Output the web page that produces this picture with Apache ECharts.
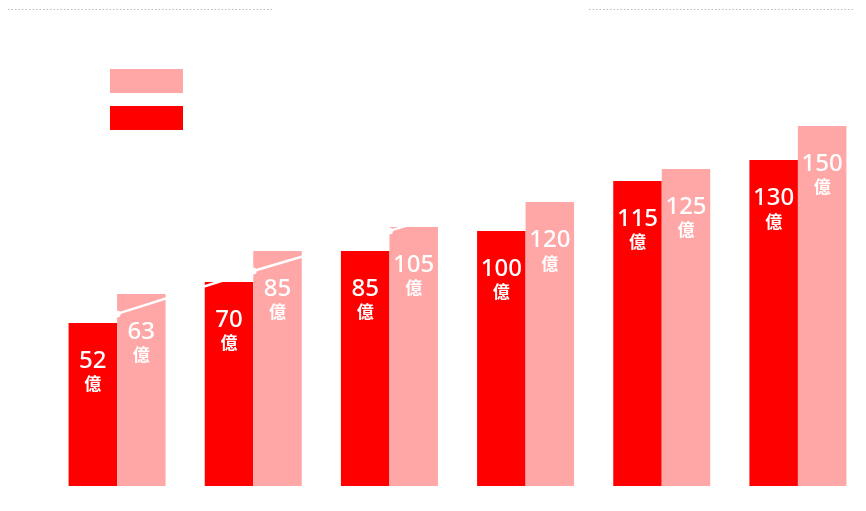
<!DOCTYPE html>
<html>
<head>
<meta charset="utf-8">
<style>
html,body{margin:0;padding:0;background:#fff;}
#chart{width:866px;height:511px;}
</style>
<script src="https://cdn.jsdelivr.net/npm/echarts@6/dist/echarts.min.js"></script>
</head>
<body>
<div id="chart"></div>
<script>
// Categories (six groups, no visible axis labels)
const categories = ['1', '2', '3', '4', '5', '6'];
// Bar heights as drawn (axis units)
const redValues = [67.9, 85.0, 97.9, 106.3, 127.1, 135.8];
const pinkValues = [80.0, 97.9, 107.9, 118.3, 132.1, 150.0];
// Text printed inside the bars (億)
const redLabels = [52, 70, 85, 100, 115, 130];
const pinkLabels = [63, 85, 105, 120, 125, 150];
// White trend line (mostly hidden against the white background)
const lineValues = [71.7, 89.6, 106.3, 123.3, 140.4, 157.5];
const unitText = '億';

const chart = echarts.init(document.getElementById('chart'), null, {renderer: 'canvas'});

function labelCfg(labels) {
  return {
    show: true,
    position: 'insideTop',
    distance: 25,
    formatter: p => '{v|' + labels[p.dataIndex] + '}\n{u|' + unitText + '}',
    rich: {
      v: {color: '#fff', fontSize: 24, lineHeight: 26, fontFamily: 'Noto Sans', fontWeight: 500},
      u: {color: '#fff', fontSize: 17, lineHeight: 20, fontFamily: 'Noto Sans CJK TC', fontWeight: 'bold'}
    }
  };
}

chart.setOption({
  animation: false,
  backgroundColor: '#ffffff',
  grid: {left: 49, right: 0, top: 102, bottom: 25},
  legend: {
    orient: 'vertical',
    left: 105, top: 64,
    itemWidth: 73, itemHeight: 24, itemGap: 13,
    icon: 'rect',
    data: ['B', 'A'],
    formatter: () => '',
    selectedMode: false
  },
  graphic: [
    {type: 'line', shape: {x1: 8, y1: 9.5, x2: 272, y2: 9.5}, style: {stroke: '#bbbbbb', lineWidth: 1, lineDash: [1.5, 2]}},
    {type: 'line', shape: {x1: 589, y1: 9.5, x2: 853, y2: 9.5}, style: {stroke: '#bbbbbb', lineWidth: 1, lineDash: [1.5, 2]}}
  ],
  xAxis: {
    type: 'category', data: categories,
    axisLine: {show: false}, axisTick: {show: false}, axisLabel: {show: false}
  },
  yAxis: {
    type: 'value', min: 0, max: 160,
    axisLine: {show: false}, axisTick: {show: false}, axisLabel: {show: false},
    splitLine: {show: false}
  },
  series: [
    {
      name: 'A', type: 'bar', data: redValues, barWidth: 48.5, barGap: '0%',
      itemStyle: {color: '#ff0000'},
      label: labelCfg(redLabels)
    },
    {
      name: 'B', type: 'bar', data: pinkValues, barWidth: 48.5, barGap: '0%',
      itemStyle: {color: '#ffa6a6'},
      label: labelCfg(pinkLabels)
    },
    {
      name: 'L', type: 'line', data: lineValues, z: 5,
      symbol: 'circle', symbolSize: 7, showSymbol: true,
      lineStyle: {color: '#ffffff', width: 2.5},
      itemStyle: {color: '#ffffff'},
      label: {show: false}
    }
  ]
});
</script>
</body>
</html>
